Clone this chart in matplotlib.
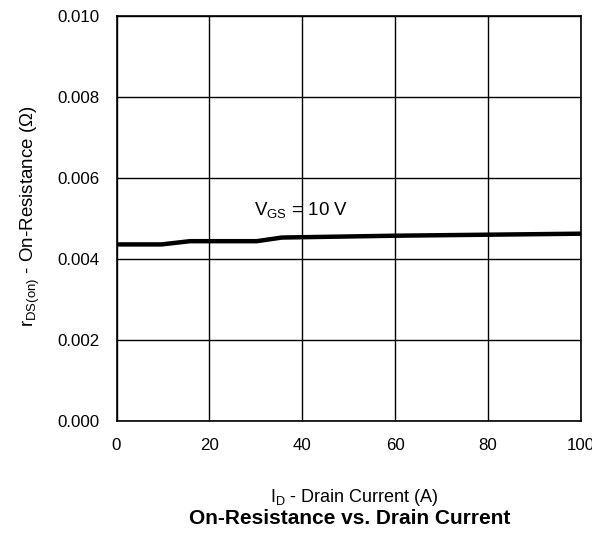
import matplotlib
matplotlib.use("Agg")
import matplotlib.pyplot as plt
import numpy as np

plt.rcParams['font.family'] = ['Liberation Sans', 'DejaVu Sans']
plt.rcParams['mathtext.fontset'] = 'custom'
plt.rcParams['mathtext.rm'] = 'Liberation Sans'

drain_current = [0.5, 9.7, 15.8, 30.2, 35.6, 60, 80, 100]
r_ds_on = [0.00436, 0.00436, 0.00444, 0.00444, 0.00453, 0.004575, 0.0046, 0.004625]
x_ticks = [0, 20, 40, 60, 80, 100]
y_ticks = [0.000, 0.002, 0.004, 0.006, 0.008, 0.010]

fig = plt.figure(figsize=(5.92, 5.39), dpi=100)
ax = fig.add_axes([116.5/592, 1 - 421/539, (581-116.5)/592, (421-16)/539])

ax.plot(drain_current, r_ds_on, color='black', lw=3.2, solid_capstyle='round')
ax.set_xlim(0, 100)
ax.set_ylim(0, 0.010)
ax.set_xticks(x_ticks)
ax.set_yticks(y_ticks)
ax.set_xticklabels([str(t) for t in x_ticks])
ax.set_yticklabels([f"{t:.3f}" for t in y_ticks])
ax.grid(True, color='black', lw=1.0)
for s in ax.spines.values():
    s.set_linewidth(1.2)
ax.tick_params(length=0, labelsize=12.2, pad=12)
ax.tick_params(axis='x', pad=12.5)

ax.text(29.7, 0.00506, r'V$_{\mathregular{GS}}$ = 10 V', fontsize=13.5, va='baseline', ha='left')

fig.text(354/592, 1 - 498/539, r'I$_{\mathregular{D}}$ - Drain Current (A)', fontsize=13, ha='center', va='center')
fig.text(350/592, 1 - 518/539, 'On-Resistance vs. Drain Current', fontsize=15, fontweight='bold', ha='center', va='center')
fig.text(30/592, 1 - 216/539, r'r$_{\mathregular{DS(on)}}$ - On-Resistance ($\Omega$)', fontsize=13.5, rotation=90, ha='center', va='center')

fig.savefig('out.png', dpi=100)
